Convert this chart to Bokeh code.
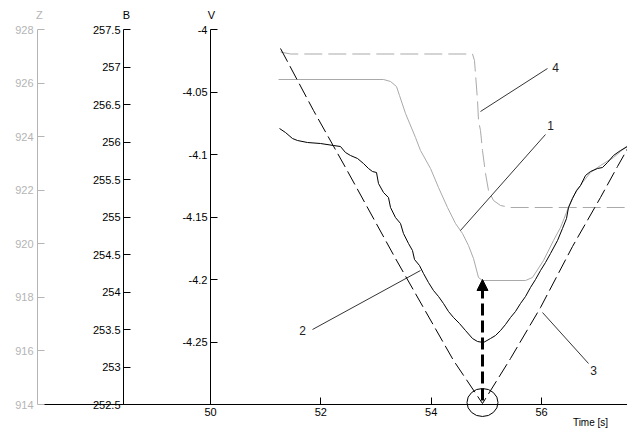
from bokeh.plotting import figure
from bokeh.models import (Range1d, LinearAxis, FixedTicker, CustomJSTickFormatter,
                          Label, Arrow, NormalHead)
from bokeh.core.properties import value
from bokeh.embed import file_html
from bokeh.resources import INLINE

# ---------------- data ----------------
# curve 1 (gray solid, Z axis)
time_1 = [51.233, 53.136, 53.263, 53.371, 53.426, 53.535, 53.716, 53.806, 53.988, 54.133,
          54.296, 54.441, 54.568, 54.676, 54.767, 54.858, 54.930, 55.710, 55.836, 56.036,
          56.217, 56.344, 56.453, 56.562, 56.743, 56.888, 57.069, 57.305, 57.559, 57.849]
z_1 = [926.133, 926.133, 926.059, 925.872, 925.536, 924.864, 923.968, 923.483, 922.811, 922.101,
       921.355, 920.757, 920.384, 919.936, 919.451, 918.741, 918.629, 918.629, 918.741, 919.376,
       920.123, 920.608, 921.168, 921.728, 922.288, 922.661, 922.923, 923.221, 923.669, 923.744]

# curve 2 (black solid, V axis)
time_2 = [51.251, 51.359, 51.486, 51.577, 51.758, 51.994, 52.230, 52.356, 52.447, 52.538,
          52.665, 52.773, 52.864, 52.936, 53.009, 53.045, 53.136, 53.226, 53.263, 53.353,
          53.444, 53.498, 53.589, 53.661, 53.698, 53.788, 53.861, 53.951, 54.042, 54.133,
          54.223, 54.314, 54.405, 54.513, 54.622, 54.749, 54.840, 54.948, 55.075, 55.166,
          55.257, 55.347, 55.438, 55.528, 55.619, 55.710, 55.800, 55.891, 55.982, 56.072,
          56.163, 56.290, 56.380, 56.453, 56.489, 56.562, 56.634, 56.707, 56.797, 56.888,
          57.015, 57.105, 57.196, 57.305, 57.432, 57.559, 57.704, 57.849]
v_2 = [-4.0792, -4.0824, -4.0872, -4.0888, -4.0904, -4.0912, -4.0928, -4.0936, -4.0984, -4.1008,
       -4.1032, -4.1072, -4.1112, -4.1136, -4.1144, -4.1232, -4.1304, -4.1344, -4.1424, -4.1504,
       -4.1552, -4.1632, -4.1712, -4.1768, -4.1840, -4.1888, -4.1952, -4.2024, -4.2088, -4.2136,
       -4.2192, -4.2256, -4.2304, -4.2352, -4.2408, -4.2472, -4.2496, -4.2504, -4.2472, -4.2448,
       -4.2408, -4.2360, -4.2304, -4.2256, -4.2192, -4.2136, -4.2064, -4.2000, -4.1928, -4.1864,
       -4.1792, -4.1688, -4.1592, -4.1512, -4.1424, -4.1352, -4.1288, -4.1248, -4.1168, -4.1136,
       -4.1112, -4.1104, -4.1064, -4.1008, -4.0968, -4.0936, -4.0920, -4.0912]

# curve 3 (black dashed V, B axis)
time_3 = [51.269, 51.867, 52.447, 53.353, 54.405, 54.930, 55.438, 55.982, 56.562, 57.069, 57.377, 57.849]
b_3 = [257.247, 256.420, 255.660, 254.447, 253.087, 252.513, 253.113, 253.793, 254.607, 255.260, 255.673, 256.287]

# curve 4 (gray dashed, Z axis)
time_4 = [51.269, 51.450, 54.749, 54.785, 54.803, 54.840, 54.858, 54.894, 54.930, 54.985,
          55.039, 55.130, 55.257, 55.438, 57.849]
z_4 = [927.160, 927.085, 927.085, 926.843, 926.357, 925.349, 924.603, 924.229, 923.483, 922.624,
       921.989, 921.616, 921.429, 921.355, 921.355]

# annotation callouts (V axis coordinates)
callout_text = ["4", "1", "2", "3"]
callout_x = [56.253, 56.163, 51.668, 56.942]
callout_y = [-4.0304, -4.0768, -4.2408, -4.2728]
leader_x0 = [54.894, 54.531, 53.806, 56.018]
leader_y0 = [-4.0656, -4.1608, -4.1928, -4.2264]
leader_x1 = [56.108, 56.072, 51.849, 56.852]
leader_y1 = [-4.0312, -4.0840, -4.2400, -4.2672]

# arrow and circle marker
arrow_x = [54.93, 54.93]
arrow_v = [-4.2968, -4.2]
circle_x = [54.93]
circle_v = [-4.2984]

# axis ticks
x_ticks = [50, 52, 54, 56]
z_ticks = [914, 916, 918, 920, 922, 924, 926, 928]
b_ticks = [252.5, 253, 253.5, 254, 254.5, 255, 255.5, 256, 256.5, 257, 257.5]
v_ticks = [-4.25, -4.2, -4.15, -4.1, -4.05, -4.0]

# ---------------- figure ----------------
GRAY = "#a9a9a9"
ZGRAY = "#b4b4b4"
FONT = "Liberation Sans"

p = figure(width=627, height=428, output_backend="svg", toolbar_location=None,
           x_range=Range1d(46.1936, 57.5585), y_range=Range1d(-4.3192, -3.9768),
           x_axis_location=None, y_axis_location=None,
           min_border_left=0, min_border_right=0, min_border_top=0, min_border_bottom=0)
p.extra_y_ranges = {"z": Range1d(913.104, 929.0827), "b": Range1d(252.18, 257.8867)}
p.outline_line_color = None
p.xgrid.visible = False
p.ygrid.visible = False
p.background_fill_color = "white"
p.border_fill_color = "white"


def style_axis(ax, color, ticks, standoff):
    ax.ticker = FixedTicker(ticks=ticks)
    ax.formatter = CustomJSTickFormatter(code="return String(tick);")
    ax.major_tick_in = 7
    ax.major_tick_out = 0
    ax.minor_tick_in = 0
    ax.minor_tick_out = 0
    ax.axis_line_color = color
    ax.major_tick_line_color = color
    ax.major_label_text_color = color
    ax.major_label_text_font = FONT
    ax.major_label_text_font_size = "11px"
    ax.major_label_standoff = standoff


z_axis = LinearAxis(y_range_name="z", fixed_location=46.8642, bounds=(914, 928))
style_axis(z_axis, ZGRAY, z_ticks, 4)
p.add_layout(z_axis, "left")

b_axis = LinearAxis(y_range_name="b", fixed_location=48.423, bounds=(252.5, 257.5))
style_axis(b_axis, "black", b_ticks, 3)
p.add_layout(b_axis, "left")

v_axis = LinearAxis(fixed_location=50.0, bounds=(-4.3, -4.0))
style_axis(v_axis, "black", v_ticks, 3)
p.add_layout(v_axis, "left")

x_axis = LinearAxis(fixed_location=-4.3, bounds=(46.973, 57.5585))
style_axis(x_axis, "black", x_ticks, 3)
p.add_layout(x_axis, "below")

# curves
p.line(time_4, z_4, y_range_name="z", line_color=GRAY, line_width=1, line_dash="18 6")
p.line(time_1, z_1, y_range_name="z", line_color=GRAY, line_width=1)
p.line(time_3, b_3, y_range_name="b", line_color="black", line_width=1, line_dash="15 5")
p.line(time_2, v_2, line_color="black", line_width=1)

# leaders and callout numbers
p.segment(x0=leader_x0, y0=leader_y0, x1=leader_x1, y1=leader_y1, line_color="black", line_width=0.8)
p.text(x=callout_x, y=callout_y, text=callout_text, text_align="center", text_baseline="middle",
       text_font=value(FONT), text_font_size="12px", text_color="#222222")

# arrow and circle
p.add_layout(Arrow(x_start=arrow_x[0], y_start=arrow_v[0], x_end=arrow_x[1], y_end=arrow_v[1],
                   line_width=3, line_dash="12 5", line_color="black",
                   end=NormalHead(size=11, fill_color="black", line_color="black", line_width=1)))
p.ellipse(x=circle_x, y=circle_v, width=31, height=28, width_units="screen", height_units="screen",
          fill_color=None, line_color="black", line_width=1)

# axis titles
for txt, xx, col in [("Z", 46.900, ZGRAY), ("B", 48.477, "black"), ("V", 50.018, "black")]:
    p.add_layout(Label(x=xx, y=-3.988, text=txt, text_align="center", text_baseline="middle",
                       text_font=FONT, text_font_size="11px", text_color=col))
p.add_layout(Label(x=56.888, y=-4.3144, text="Time [s]", text_align="center", text_baseline="middle",
                   text_font=FONT, text_font_size="10px", text_color="black"))

open("out.html", "w").write(file_html(p, INLINE))
